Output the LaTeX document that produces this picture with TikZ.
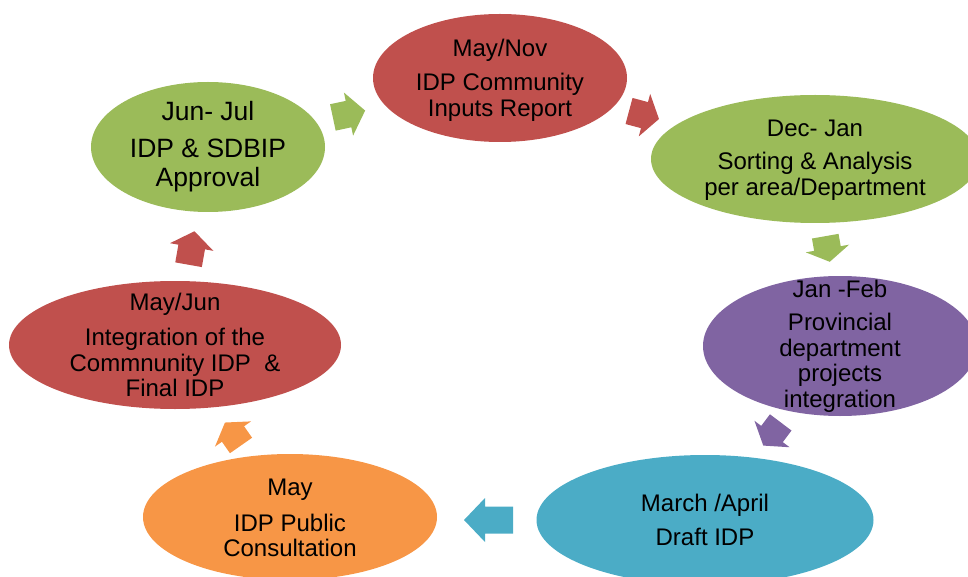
\documentclass[tikz,border=0pt]{standalone}
\usepackage{fontspec}
\setmainfont{Liberation Sans}
\usetikzlibrary{shapes.geometric}
\definecolor{cred}{HTML}{C0504D}
\definecolor{cgreen}{HTML}{9BBB59}
\definecolor{cpurple}{HTML}{8064A2}
\definecolor{cteal}{HTML}{4BACC6}
\definecolor{corange}{HTML}{F79646}
% x, y, angle, length, head length, colour
\newcommand\blkarrow[6]{%
  \fill[#6,shift={(#1,#2)},rotate=#3] ({-#4/2},-13.5) -- ({#4/2-#5},-13.5) -- ({#4/2-#5},-22) -- ({#4/2},0) -- ({#4/2-#5},22) -- ({#4/2-#5},13.5) -- ({-#4/2},13.5) -- cycle;}
\tikzset{
  ell/.style={ellipse, inner sep=0pt, draw=none},
  txt/.style={align=center, inner sep=0pt, text=black, font=\fontsize{24}{25.5}\selectfont},
}
\begin{document}
\begin{tikzpicture}[x=1pt,y=-1pt]
\useasboundingbox (0,0) rectangle (968,577);
% ellipses
\node[ell, fill=cred, minimum width=254pt, minimum height=128pt] (n1) at (500,78) {};
\node[ell, fill=cgreen, minimum width=328pt, minimum height=128pt] (n2) at (815,159) {};
\node[ell, fill=cpurple, minimum width=274pt, minimum height=140pt] (n3) at (840,346) {};
\node[ell, fill=cteal, minimum width=337pt, minimum height=130pt] (n4) at (705,520) {};
\node[ell, fill=corange, minimum width=294pt, minimum height=126pt] (n5) at (290,517) {};
\node[ell, fill=cred, minimum width=332pt, minimum height=128pt] (n6) at (175,345) {};
\node[ell, fill=cgreen, minimum width=234pt, minimum height=130pt] (n7) at (208,147) {};
% texts
\node[txt] (t1) at ([yshift=-2pt]n1) {May/Nov\\[9pt]IDP Community\\Inputs Report};
\node[txt] (t2) at ([yshift=-1pt]n2) {Dec- Jan\\[8pt]Sorting \& Analysis\\per area/Department};
\node[txt] (t3) at (n3) {Jan -Feb\\[8pt]Provincial\\department\\projects\\integration};
\node[txt] (t4) at (n4) {March /April\\[8pt]Draft IDP};
\node[txt] (t5) at ([yshift=-1pt]n5) {May\\[10pt]IDP Public\\Consultation};
\node[txt] (t6) at (n6) {May/Jun\\[10pt]Integration of the\\Commnunity IDP~~\&\\Final IDP};
\node[txt, font=\fontsize{26.5}{29}\selectfont] (t7) at (n7) {Jun- Jul\\[8pt]IDP \& SDBIP\\Approval};
% block arrows
\blkarrow{349}{114}{12}{33}{17}{cgreen}
\blkarrow{644}{115}{-15}{31}{15}{cred}
\blkarrow{827.5}{249}{-80}{26}{13.5}{cgreen}
\blkarrow{772}{434}{-127}{29}{14.5}{cpurple}
\blkarrow{488.5}{520}{180}{49}{21}{cteal}
\blkarrow{233}{434}{125}{28}{14}{corange}
\blkarrow{191.5}{248}{80}{34}{16}{cred}
\end{tikzpicture}
\end{document}
